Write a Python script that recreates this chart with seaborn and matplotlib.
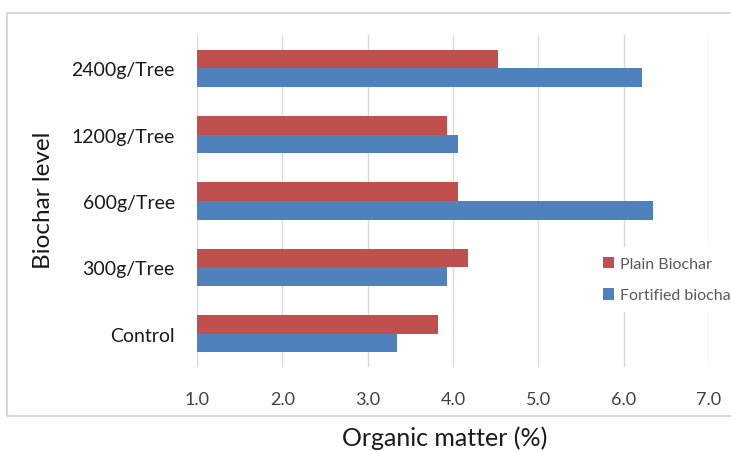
import matplotlib
matplotlib.use("Agg")
import matplotlib.pyplot as plt
import pandas as pd
import seaborn as sns
from matplotlib.patches import Rectangle

levels = ["2400g/Tree", "1200g/Tree", "600g/Tree", "300g/Tree", "Control"]
plain = [4.53, 3.93, 4.06, 4.18, 3.82]
fortified = [6.21, 4.06, 6.34, 3.93, 3.34]
series = ["Plain Biochar", "Fortified biochar"]
x_ticks = [1.0, 2.0, 3.0, 4.0, 5.0, 6.0, 7.0]

RED = "#C0504D"
BLUE = "#4F81BD"

df = pd.DataFrame({
    "level": levels * 2,
    "value": plain + fortified,
    "series": [series[0]] * len(levels) + [series[1]] * len(levels),
})

sns.set_style("white")
plt.rcParams["font.family"] = ["Lato", "DejaVu Sans"]

fig = plt.figure(figsize=(7.31, 4.52), dpi=100)
ax = fig.add_axes([197 / 731, 1 - 368 / 452, 512 / 731, 332 / 452])

# outer chart frame (light grey, runs off to the right)
fig.patches.append(Rectangle((7 / 731, 1 - 417 / 452), 1.2, (417 - 14) / 452,
                             transform=fig.transFigure, fill=False,
                             edgecolor="#d9d9d9", linewidth=1.5, zorder=0))

sns.barplot(data=df, x="value", y="level", hue="series", orient="h",
            order=levels, hue_order=series, palette=[RED, BLUE],
            width=0.56, linewidth=0, saturation=1, ax=ax)

ax.set_xlim(1.0, 7.0)
ax.set_xticks(x_ticks)
ax.set_xticklabels([f"{t:.1f}" for t in x_ticks], fontsize=13, color="#404040")
ax.tick_params(axis="x", length=0, pad=17)
ax.tick_params(axis="y", length=0, pad=16, labelsize=14, labelcolor="#1a1a1a")
ax.grid(axis="x", color="#d9d9d9", linewidth=1)
ax.set_axisbelow(True)
for s in ax.spines.values():
    s.set_visible(False)

ax.set_ylabel("Biochar level", fontsize=17.5, color="#1a1a1a")
ax.yaxis.set_label_coords(-0.28, 0.506)
ax.set_xlabel("Organic matter (%)", fontsize=18, color="#1a1a1a")
ax.xaxis.set_label_coords(0.484, -0.175)

ax.legend(loc="upper left", bbox_to_anchor=(585 / 731, 1 - 240 / 452),
          bbox_transform=fig.transFigure, frameon=True, facecolor="white",
          edgecolor="none", framealpha=1, fontsize=11.5, labelcolor="#595959",
          handlelength=0.7, handleheight=0.7, handletextpad=0.4,
          labelspacing=1.1, borderpad=0.6, fancybox=False)

fig.savefig("out.png", dpi=100)
